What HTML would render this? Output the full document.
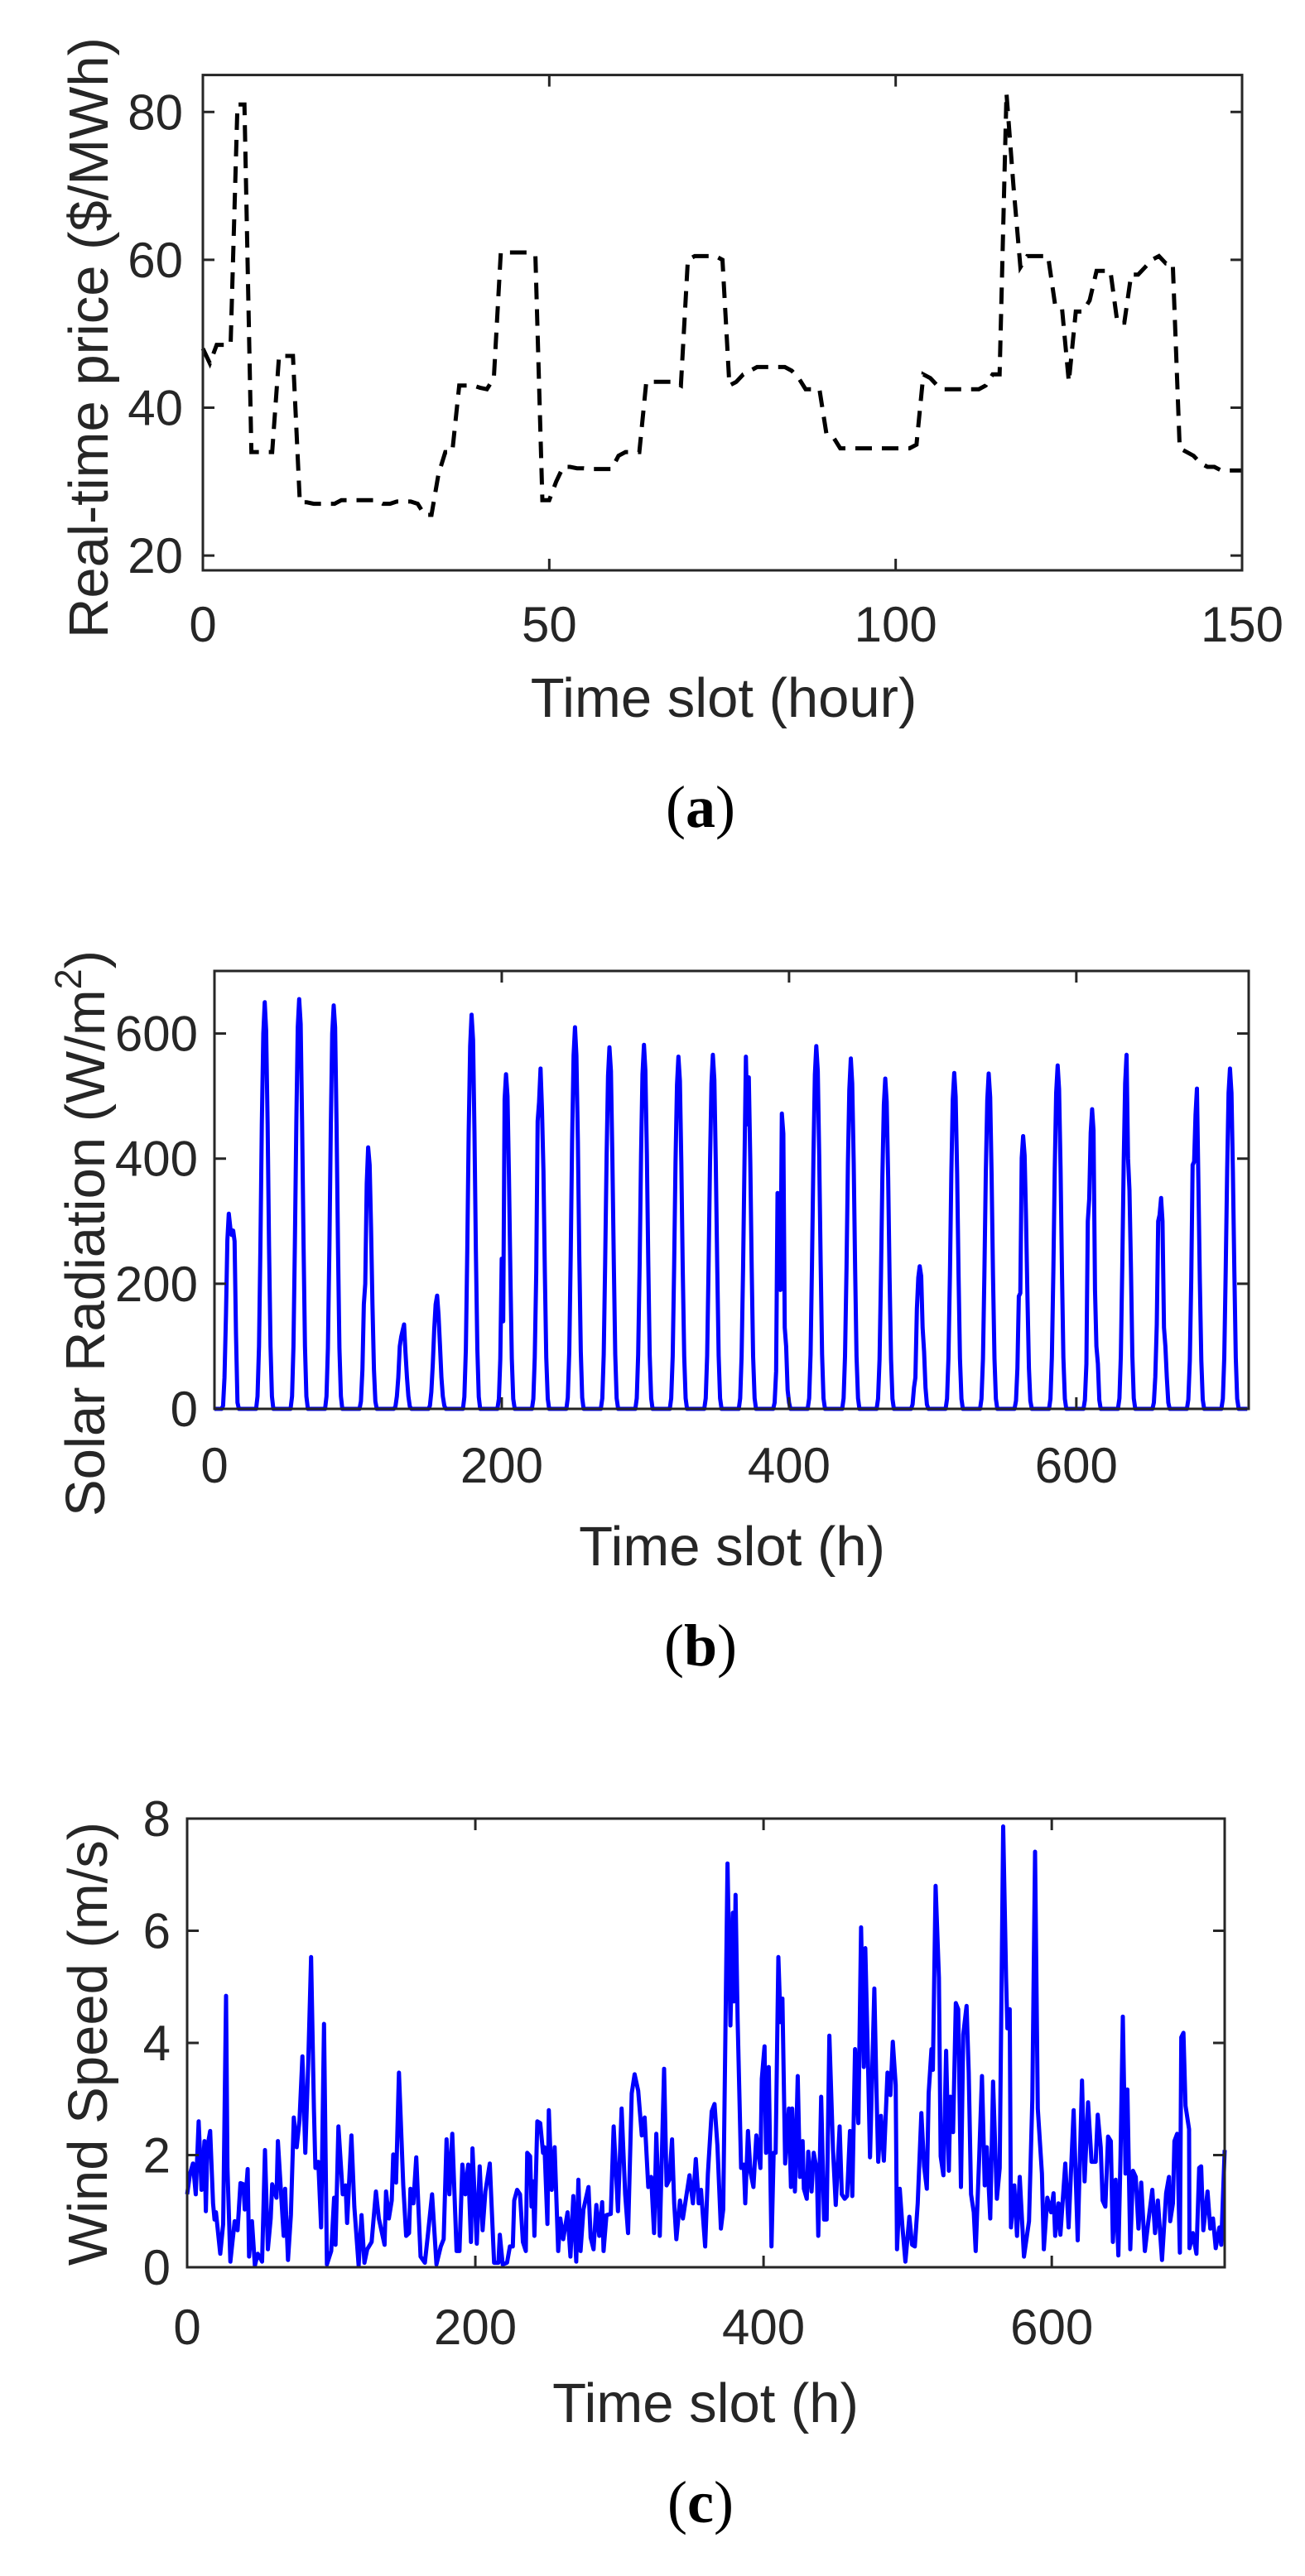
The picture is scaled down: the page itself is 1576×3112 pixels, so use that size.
<!DOCTYPE html>
<html><head><meta charset="utf-8"><style>
html,body{margin:0;padding:0;background:#fff;}
svg{display:block;}
text{font-family:"Liberation Sans",Arial,sans-serif;fill:#262626;}
.cap{font-family:"Liberation Serif","Times New Roman",serif;fill:#000;}
</style></head><body>
<svg id="fig" xmlns="http://www.w3.org/2000/svg" width="1576" height="3112" viewBox="0 0 1576 3112">
<rect x="0" y="0" width="1576" height="3112" fill="#fff"/>
<g id="pa"></g>
<g id="pb"></g>
<g id="pc"></g>
<text x="874" y="866" font-size="67" text-anchor="middle">Time slot (hour)</text>
<text transform="translate(130,408) rotate(-90)" font-size="67" text-anchor="middle">Real-time price ($/MWh)</text>
<text class="cap" x="846" y="999" font-size="72" text-anchor="middle">(<tspan font-weight="bold">a</tspan>)</text>
<text x="884" y="1891" font-size="67" text-anchor="middle">Time slot (h)</text>
<text transform="translate(126,1490) rotate(-90)" font-size="67" text-anchor="middle">Solar Radiation (W/m<tspan font-size="45" dy="-28">2</tspan><tspan dy="28">)</tspan></text>
<text class="cap" x="846" y="2012" font-size="72" text-anchor="middle">(<tspan font-weight="bold">b</tspan>)</text>
<text x="852" y="2926" font-size="67" text-anchor="middle">Time slot (h)</text>
<text transform="translate(129,2469) rotate(-90)" font-size="67" text-anchor="middle">Wind Speed (m/s)</text>
<text class="cap" x="846" y="3047" font-size="72" text-anchor="middle">(<tspan font-weight="bold">c</tspan>)</text>
</svg>
<script>
// ---------- Chart (a) data: real-time price, hourly t = 0..150 ----------
const priceXTicks = [0, 50, 100, 150];
const priceYTicks = [20, 40, 60, 80];
const priceValues = [
48,46,48.5,48.5,48.5,81,81,34,34,34,
34,47,47,47,27.2,27.2,27,27,27,27,
27.5,27.5,27.5,27.5,27.5,27.5,27,27,27.3,27.3,
27.3,27,25.5,25.5,31,34,34,43,43,43,
42.7,42.5,44,61,61,61,61,61,60.5,27.5,
27.5,30,32,32,31.8,31.8,31.7,31.7,31.7,31.7,
33.5,34,34,34,43.5,43.5,43.5,43.5,43.5,43,
60,60.5,60.5,60.5,60.5,60,43,43.5,44.5,45,
45.5,45.5,45.5,45.5,45.5,45,44,42.5,42.5,42.5,
36.5,36,34.5,34.5,34.5,34.5,34.5,34.5,34.5,34.5,
34.5,34.5,34.5,35,44.5,44,43,42.5,42.5,42.5,
42.5,42.5,42.5,43,44.5,44.5,82.5,70,59,60.5,
60.5,60.5,60.5,54,53.5,43.5,53,53,54.5,58.5,
58.5,58.5,51.5,51.5,58,58,59,60,60.5,59.5,
59.5,34.5,34,33.5,32.5,32,32,31.5,31.5,31.5,31.5];

// ---------- Chart (b) data: solar radiation, daylight hours 5..17 of each day ----------
const solarXTicks = [0, 200, 400, 600];
const solarYTicks = [0, 200, 400, 600];
const solarFirstHour = 5;
const solarDays = [
[0,5,50,150,270,312,290,278,285,268,120,10,0],
[0,20,100,260,455,600,650,605,455,260,100,20,0],
[0,20,100,262,460,610,655,615,460,262,100,20,0],
[0,20,97,258,450,600,645,610,450,258,97,20,0],
[0,12,63,167,200,360,418,390,290,167,63,12,0],
[0,4,20,50,100,115,125,135,90,50,20,4,0],
[0,5,27,72,127,167,181,150,100,50,20,5,0],
[0,19,95,252,441,580,630,590,441,252,95,19,0],
[0,16,80,240,140,495,535,500,375,214,80,16,0],
[0,16,82,218,460,490,544,480,380,218,82,16,0],
[0,18,92,244,427,565,610,565,427,244,92,18,0],
[0,17,87,231,405,532,578,540,405,231,87,17,0],
[0,17,87,233,407,535,582,541,407,233,87,17,0],
[0,17,84,225,394,518,563,524,394,225,84,17,0],
[0,17,85,226,396,520,566,526,396,226,85,17,0],
[0,17,84,225,394,563,455,530,394,225,84,17,0],
[0,10,60,345,330,190,472,440,130,100,30,10,0],
[0,17,87,232,406,534,580,540,406,232,87,17,0],
[0,17,84,224,392,510,560,520,392,224,84,17,0],
[0,16,79,211,370,486,528,491,370,211,79,16,0],
[0,7,34,50,160,210,228,212,130,91,34,7,0],
[0,16,81,215,376,494,537,499,376,215,81,16,0],
[0,16,80,214,375,493,536,498,375,214,80,16,0],
[0,13,65,180,185,401,436,405,305,174,65,13,0],
[0,16,82,220,384,505,549,511,384,220,82,16,0],
[0,14,72,300,335,441,479,445,190,100,72,14,0],
[0,17,85,226,396,520,566,400,350,226,85,17,0],
[0,10,51,135,300,310,337,300,130,100,51,10,0],
[0,15,77,205,390,395,470,512,358,205,77,15,0],
[0,16,82,218,381,505,544,505,381,218,82,16,0]];

// ---------- Chart (c) data: wind speed ----------
const windXTicks = [0, 200, 400, 600];
const windYTicks = [0, 2, 4, 6, 8];
const windHours = [0,2,4,6,8,10,12,13,14,16,18,19,20,23,25,27,28,30,33,35,37,39,40,42,43,45,47,49,52,54,56,58,59,62,63,65,67,68,70,72,74,76,78,80,82,84,86,88,89,91,93,95,97,100,102,103,105,108,110,111,114,116,119,121,123,125,128,131,133,137,138,140,142,143,145,147,150,152,154,155,157,159,162,165,167,170,173,176,178,180,182,184,187,189,191,193,195,197,198,201,203,205,207,210,213,216,217,219,222,224,226,227,229,231,233,235,236,238,239,240,241,243,
245,247,248,250,251,253,255,257.5,259,261,264,266,268,270,271.5,273,275,278.5,280,282,284,286,288,289,291,294,296,299,301.5,304,306,308.5,310.5,313,315.5,317.5,320,322,324,325.6,328,331,332.7,334.6,336.5,338,339.5,342,344,348.6,351,353,355,356.6,359.5,361.4,364,366,368,370.4,372,375,377,378.7,379.6,380.6,382,384.4,386.3,387.3,389.2,391,393,395,397.8,398.8,400.7,401.7,403.6,405.5,407,408.4,410.3,411.8,413.1,415,417.6,419,419.9,421.8,423.7,425.2,427.1,428,430,431,433.3,434.8,437,438,440,442,443.8,445.7,448.2,450.1,452.8,454.3,456.3,458,460,461.6,463.5,465.8,467.7,469.6,470.6,472.5,473.9,476.9,478.3,479.6,481.5,483.5,
486,488,489.7,491.7,492.6,494.5,496.4,498.4,501.2,503.1,505,507,509.5,511.4,513.3,514.6,516.5,517.5,519.4,521.7,522.9,524.8,526.7,528.6,529.6,531.5,533.4,535.1,537,538.6,540.9,542.4,544,545.9,547.2,549.7,551.6,553.5,554.9,557.3,559.3,561.9,563.9,566.3,568.3,569.2,570.8,571.7,574,575.9,577.8,580.7,584.2,586.5,588.4,590.3,593.2,594.5,596.9,599.5,601.2,602.4,604.7,606,609.4,611.7,615.2,618,621,622.8,625.2,627.6,630.5,631.9,634,635.3,637.2,639.1,641,642.4,644.3,646.2,647.7,649.3,651.2,652.5,654.5,656.4,658.3,660.2,662.1,664.6,666.9,669.8,671.7,673.6,676.5,679.4,681.3,682.2,684.1,685.1,687,688.9,689.9,691.4,692.8,695.3,695.6,697.9,700.4,702.3,703.7,705.2,708.1,710,711.9,713.8,716.3,717.6,720];
const windSpeed = [1.3,1.67,1.85,1.3,2.6,1.38,2.25,1.0,2.14,2.43,1.14,0.85,0.98,0.24,0.77,4.84,1.77,0.1,0.82,0.66,1.5,1.48,1.03,1.75,0.19,0.82,0.03,0.24,0.1,2.09,0.32,0.87,1.48,1.24,2.25,1.4,0.56,1.4,0.13,0.93,2.67,2.14,2.62,3.76,2.04,3.62,5.53,2.83,1.77,1.88,0.71,4.34,0.05,0.29,1.24,0.4,2.51,1.3,1.46,0.79,2.35,1.08,0.03,0.93,0.08,0.32,0.45,1.35,0.87,0.4,1.35,0.87,1.19,2.01,1.51,3.47,1.46,0.56,0.61,1.4,1.14,1.96,0.19,0.08,0.56,1.3,0.05,0.37,0.5,2.28,1.3,2.38,0.29,0.29,1.83,1.3,1.83,0.45,2.12,0.42,1.8,0.66,1.35,1.85,0.08,0.08,0.58,0.05,0.08,0.37,0.37,1.19,1.38,1.3,0.45,0.29,2.04,1.98,1.08,1.53,0.56,2.6,
2.57,2.04,2.14,0.77,2.8,1.38,2.14,0.29,0.87,0.5,0.98,0.19,1.27,0.1,1.56,0.29,1.03,1.43,0.53,0.32,1.11,0.56,1.16,0.29,0.93,0.95,2.51,1.0,2.83,1.3,0.61,3.1,3.44,3.15,2.35,2.67,1.43,1.61,0.61,2.38,0.56,3.54,1.46,1.56,2.28,1.14,0.5,1.19,0.87,1.64,1.14,1.93,1.14,1.38,0.37,1.67,2.78,2.91,2.17,0.69,1.03,7.2,4.31,6.32,4.74,6.64,4.42,1.77,1.83,1.14,2.43,1.69,1.43,2.35,1.77,3.36,3.94,2.04,3.57,0.37,2.04,2.04,5.53,4.37,4.79,1.85,2.83,1.43,2.83,1.35,3.41,1.61,2.25,1.4,1.22,2.06,1.35,2.04,1.72,0.56,3.04,0.85,0.85,4.13,2.09,1.11,2.51,1.3,1.22,1.27,2.43,1.27,3.89,2.57,6.06,3.57,5.69,3.62,1.96,4.97,3.2,1.88,2.7,1.9,
3.47,3.07,4.02,3.25,0.32,1.4,0.71,0.1,0.9,0.4,0.37,1.14,2.75,1.8,1.4,3.1,3.89,3.52,6.8,5.16,1.98,1.64,3.86,1.72,3.04,2.41,4.71,4.6,1.43,4.15,4.66,3.47,1.3,0.98,0.29,1.98,3.41,1.46,2.14,0.87,3.31,1.22,1.77,7.86,5.16,4.26,4.6,0.71,1.46,0.56,1.61,0.19,0.82,2.99,7.41,2.83,1.67,0.32,1.24,0.98,1.32,0.56,1.14,0.58,1.85,0.71,2.8,0.48,3.33,1.53,2.94,1.88,1.88,2.72,2.14,1.19,1.08,2.33,2.25,0.45,1.56,0.21,1.98,4.47,1.67,3.17,0.32,1.72,1.61,0.69,1.51,0.29,0.79,1.38,0.61,1.19,0.13,1.32,1.61,0.82,1.14,2.25,2.38,0.26,4.1,4.18,2.88,2.46,0.34,0.61,0.24,1.77,1.8,0.66,1.35,0.69,0.87,0.34,0.71,0.4,2.09];

const NS = 'http://www.w3.org/2000/svg';
function mk(tag, attrs, parent) {
  const e = document.createElementNS(NS, tag);
  for (const k in attrs) e.setAttribute(k, attrs[k]);
  parent.appendChild(e);
  return e;
}
function scale(d0, d1, r0, r1) { return v => r0 + (v - d0) / (d1 - d0) * (r1 - r0); }

function drawAxes(g, c, xs, ys, xticks, yticks, labelRight, tickBase, prefix) {
  const tl = 14;
  xticks.forEach(t => {
    const x = xs(t);
    const a = mk('line', {x1:x, y1:c.y1, x2:x, y2:c.y1 - tl, stroke:'#262626', 'stroke-width':3}, g);
    
    
    const b = mk('line', {x1:x, y1:c.y0, x2:x, y2:c.y0 + tl, stroke:'#262626', 'stroke-width':3}, g);
    
    
    const tx = mk('text', {x:x, y:tickBase, 'font-size':60, 'text-anchor':'middle'}, g);
    tx.textContent = String(t);
    
    
  });
  yticks.forEach(t => {
    const y = ys(t);
    const a = mk('line', {x1:c.x0, y1:y, x2:c.x0 + tl, y2:y, stroke:'#262626', 'stroke-width':3}, g);
    
    
    const b = mk('line', {x1:c.x1, y1:y, x2:c.x1 - tl, y2:y, stroke:'#262626', 'stroke-width':3}, g);
    
    
    const ty = mk('text', {x:labelRight, y:y + 21, 'font-size':60, 'text-anchor':'end'}, g);
    ty.textContent = String(t);
    
    
  });
  const box = mk('rect', {x:c.x0, y:c.y0, width:c.x1 - c.x0, height:c.y1 - c.y0, fill:'none', stroke:'#262626', 'stroke-width':3}, g);
  
  
}

// Chart (a)
(function(){
  const g = document.getElementById('pa');
  const c = {x0:245, x1:1500, y0:90.6, y1:689};
  const xs = scale(0, 150, c.x0, c.x1), ys = scale(18, 85, c.y1, c.y0);
  const pts = priceValues.map((v, i) => xs(i).toFixed(1) + ',' + ys(v).toFixed(1)).join(' ');
  const line = mk('polyline', {points:pts, fill:'none', stroke:'#000', 'stroke-width':5, 'stroke-dasharray':'20 12', 'stroke-linejoin':'miter'}, g);
  
  
  drawAxes(g, c, xs, ys, priceXTicks, priceYTicks, 221, 775, 'price');
})();

// Chart (b)
(function(){
  const g = document.getElementById('pb');
  const c = {x0:259, x1:1508, y0:1173, y1:1702};
  const xs = scale(0, 720, c.x0, c.x1), ys = scale(0, 700, c.y1, c.y0);
  const hourly = new Array(720).fill(0);
  solarDays.forEach((vals, d) => vals.forEach((v, k) => {
    const h = d * 24 + solarFirstHour + k;
    if (h < 720) hourly[h] = v;
  }));
  const pts = hourly.map((v, i) => xs(i).toFixed(1) + ',' + ys(v).toFixed(1)).join(' ');
  const line = mk('polyline', {points:pts, fill:'none', stroke:'#0000ff', 'stroke-width':5, 'stroke-linejoin':'round'}, g);
  
  
  drawAxes(g, c, xs, ys, solarXTicks, solarYTicks, 239, 1791, 'solar');
})();

// Chart (c)
(function(){
  const g = document.getElementById('pc');
  const c = {x0:226, x1:1479, y0:2197, y1:2739};
  const xs = scale(0, 720, c.x0, c.x1), ys = scale(0, 8, c.y1, c.y0);
  const pts = windHours.map((h, i) => xs(h).toFixed(1) + ',' + ys(windSpeed[i]).toFixed(1)).join(' ');
  const line = mk('polyline', {points:pts, fill:'none', stroke:'#0000ff', 'stroke-width':5, 'stroke-linejoin':'round'}, g);
  
  
  drawAxes(g, c, xs, ys, windXTicks, windYTicks, 206, 2832, 'wind');
})();
</script>
</body></html>
